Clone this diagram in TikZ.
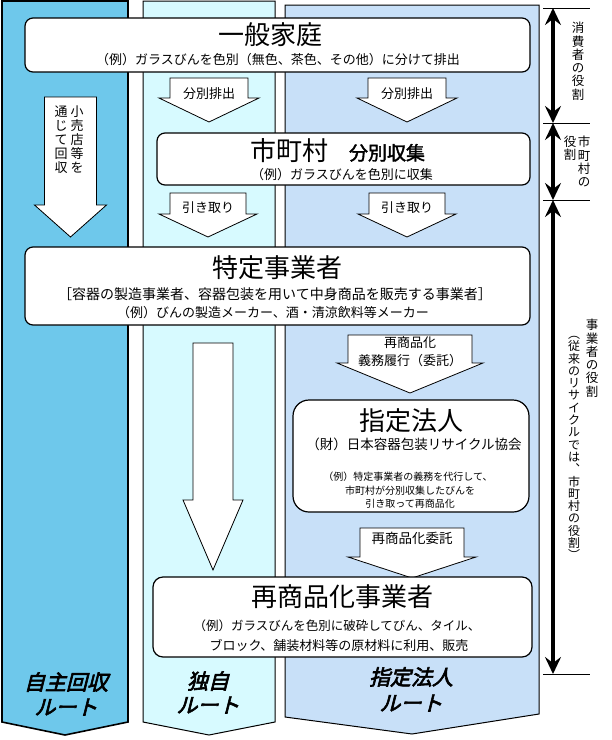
\documentclass[tikz,border=0pt]{standalone}
\usepackage{fontspec}
\setmainfont{Noto Sans CJK JP}
\newfontfamily\boldjp[FakeBold=2]{Noto Sans CJK JP}
\newfontfamily\routejp[FakeBold=3,FakeSlant=0.25]{Noto Sans CJK JP}
\usetikzlibrary{arrows.meta}
\definecolor{selfcol}{RGB}{110,200,235}
\definecolor{owncol}{RGB}{215,250,255}
\definecolor{desigcol}{RGB}{200,224,248}
% block arrow: centre x, shaft half, head half, top, head line, tip
\newcommand\downblock[6]{%
  \draw[blockarrow] ({#1-#2},#4) -- ({#1+#2},#4) -- ({#1+#2},#5) -- ({#1+#3},#5)
    -- (#1,#6) -- ({#1-#3},#5) -- ({#1-#2},#5) -- cycle;}

\begin{document}
\begin{tikzpicture}[x=1pt,y=-1pt,
  lane/.style={draw,line width=1pt},
  box/.style={draw,line width=1.2pt,fill=white,rounded corners=8pt,inner sep=0pt},
  blockarrow/.style={draw,fill=white,line width=0.8pt},
  bigtext/.style={font=\fontsize{26}{28}\selectfont,inner sep=0pt},
  midtext/.style={font=\fontsize{13}{15}\selectfont,inner sep=0pt},
  smalltext/.style={font=\fontsize{10}{12}\selectfont,inner sep=0pt},
  route/.style={font=\fontsize{21}{24}\routejp,inner sep=0pt},
  tate/.style={align=center,anchor=north,inner sep=0pt,font=\fontsize{12.5}{13.3}\selectfont},
  >={Stealth[length=17pt,width=16pt,inset=6pt]}]
\useasboundingbox (0,0) rectangle (612,740);

% the three lanes
\draw[lane,fill=selfcol,line width=1.6pt] (2,1) -- (128,1) -- (128,722) -- (65,735) -- (2,722) -- cycle;
\draw[lane,fill=owncol] (143,1) -- (275,1) -- (275,722) -- (209,735) -- (143,722) -- cycle;
\draw[lane,fill=desigcol] (285,5) -- (539,5) -- (539,714) -- (412,734) -- (285,717) -- cycle;

% block arrows
\downblock{70.5}{26}{36}{97}{205}{237}
\downblock{209}{39}{50}{78}{98}{122}
\downblock{407}{39}{50}{78}{98}{122}
\downblock{208}{38}{49}{193}{214}{237}
\downblock{407}{38}{49}{193}{214}{237}
\downblock{213}{20}{30}{343}{500}{570}
\downblock{410}{62}{73}{335}{363}{393}
\downblock{412}{52}{64}{528}{557}{578}

\node[midtext] (sortout1) at (209,94) {分別排出};
\node[midtext] (sortout2) at (407,94) {分別排出};
\node[midtext] (pickup1) at (208,208) {引き取り};
\node[midtext] (pickup2) at (407,208) {引き取り};
\node[midtext] (duty1) at (410,343) {再商品化};
\node[midtext] (duty2) at (410,361) {義務履行（委託）};
\node[midtext,font=\fontsize{13.5}{15}\selectfont] (commission) at (412,538) {再商品化委託};
\node[tate,font=\fontsize{13}{14}\selectfont] (shopA) at (77,106) {小\\売\\店\\等\\を};
\node[tate,font=\fontsize{13}{14}\selectfont] (shopB) at (61,106) {通\\じ\\て\\回\\収};

% boxes
\node[box,minimum width=505pt,minimum height=54pt] (home) at (277.5,45) {};
\node[bigtext] (homeT) at (270,35) {一般家庭};
\node[midtext] (homeS) at (278,60) {（例）ガラスびんを色別（無色、茶色、その他）に分けて排出};

\node[box,minimum width=373pt,minimum height=52pt] (muni) at (343.5,159) {};
\node[bigtext,anchor=base] (muniT) at (289,160) {市町村};
\node[font=\fontsize{19}{21}\boldjp,inner sep=0pt,anchor=base] (muniB) at (387,160) {分別収集};
\node[midtext] (muniS) at (342,175) {（例）ガラスびんを色別に収集};

\node[box,minimum width=505pt,minimum height=78pt] (maker) at (277.5,286) {};
\node[bigtext] (makerT) at (277,268) {特定事業者};
\node[midtext,font=\fontsize{14}{16}\selectfont] (makerA) at (275,294) {［容器の製造事業者、容器包装を用いて中身商品を販売する事業者］};
\node[midtext] (makerB) at (273,313) {（例）びんの製造メーカー、酒・清涼飲料等メーカー};

\node[box,rounded corners=16pt,minimum width=236pt,minimum height=112pt] (desig) at (411,456) {};
\node[bigtext] (desigT) at (411,421) {指定法人};
\node[midtext,font=\fontsize{13.5}{15}\selectfont] (desigA) at (414,444) {（財）日本容器包装リサイクル協会};
\node[smalltext] (desigB) at (408,477) {（例）特定事業者の義務を代行して、};
\node[smalltext] (desigC) at (410,491) {市町村が分別収集したびんを};
\node[smalltext] (desigD) at (410,504) {引き取って再商品化};

\node[box,rounded corners=10pt,minimum width=379pt,minimum height=80pt] (recycler) at (342.5,617) {};
\node[bigtext] (recyclerT) at (342,597) {再商品化事業者};
\node[midtext,font=\fontsize{12.5}{14}\selectfont] (recyclerA) at (337,626) {（例）ガラスびんを色別に破砕してびん、タイル、};
\node[midtext] (recyclerB) at (339,645) {ブロック、舗装材料等の原材料に利用、販売};

% lane names
\node[route] (selfA) at (66,682) {自主回収};
\node[route] (selfB) at (66,707) {ルート};
\node[route] (ownA) at (208,681) {独自};
\node[route] (ownB) at (208,705) {ルート};
\node[route] (desA) at (411,677) {指定法人};
\node[route] (desB) at (411,703) {ルート};

% roles on the right
\coordinate (r0) at (553,8);
\coordinate (r1) at (553,123);
\coordinate (r2) at (553,200);
\coordinate (r3) at (553,674);
\foreach \r in {r0,r1,r2,r3}
  \draw[line width=0.8pt] ([xshift=-10pt]\r) -- ([xshift=37pt]\r);
\draw[<->,line width=4pt] (r0) -- (r1);
\draw[<->,line width=4pt] (r1) -- (r2);
\draw[<->,line width=4pt] (r2) -- (r3);
\node[tate] (roleC) at (578,22) {消\\費\\者\\の\\役\\割};
\node[tate] (roleMa) at (584,136) {市\\町\\村\\の};
\node[tate] (roleMb) at (570,136) {役\\割};
\node[tate] (rolePa) at (592,319) {事\\業\\者\\の\\役\\割};
\node[tate,font=\fontsize{12}{12.3}\selectfont] (rolePb) at (574,336) {︵\\従\\来\\の\\リ\\サ\\イ\\ク\\ル\\で\\は\\︑\\市\\町\\村\\の\\役\\割\\︶};
\end{tikzpicture}
\end{document}
